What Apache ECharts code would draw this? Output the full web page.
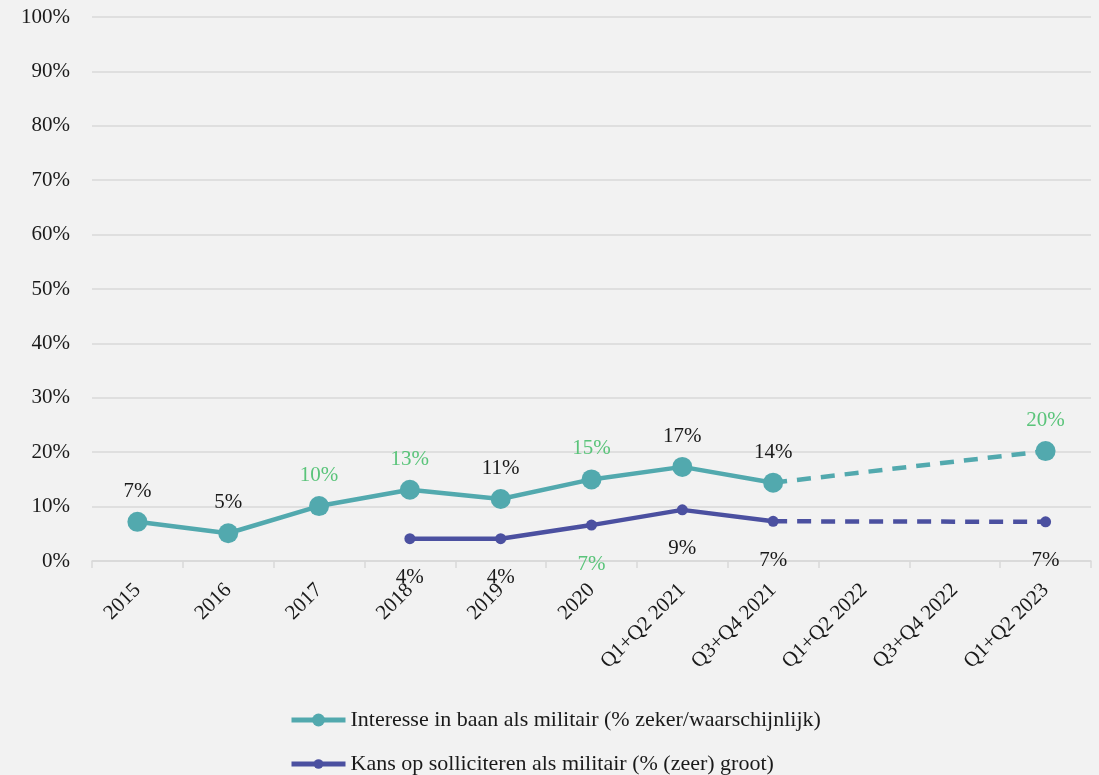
<!DOCTYPE html>
<html><head><meta charset="utf-8">
<script src="https://cdn.jsdelivr.net/npm/echarts@6/dist/echarts.min.js"></script>
<style>html,body{margin:0;padding:0;background:#f2f2f2;}#c{width:1099px;height:775px;}</style>
</head><body><div id="c"></div>
<script>
const categories = ['2015','2016','2017','2018','2019','2020','Q1+Q2 2021','Q3+Q4 2021','Q1+Q2 2022','Q3+Q4 2022','Q1+Q2 2023'];
const yTicks = [0,10,20,30,40,50,60,70,80,90,100];
const interesse = [7.2, 5.1, 10.1, 13.1, 11.4, 15.0, 17.3, 14.4, null, null, 20.2];
const kans = [null, null, null, 4.1, 4.1, 6.6, 9.4, 7.3, null, null, 7.2];
const interesseLabelGreen = [false,false,true,true,false,true,false,false,false,false,true];
const kansLabelGreen = [false,false,false,false,false,true,false,false,false,false,false];
const solidUntil = 7; // index of last solid point

const GREEN = '#5ac47a', TEAL = '#52a9ae', PURPLE = '#4b50a0';
const FONT = '"Liberation Serif", "DejaVu Serif", serif';
const FS = 21;

function solidPart(arr){ return arr.map((v,i)=> i<=solidUntil ? v : null); }
function dashPart(arr){ return arr.map((v,i)=> i>=solidUntil ? v : null); }
function labeled(arr, greens){
  return arr.map((v,i)=> v==null ? null : ({value:v, label:{color: greens[i]?GREEN:'#1a1a1a'}}));
}
function dashData(arr, greens){
  return arr.map((v,i)=>{
    if (v==null) return null;
    if (i===solidUntil) return {value:v, symbol:'none', label:{show:false}};
    return {value:v, label:{color: greens[i]?GREEN:'#1a1a1a'}};
  });
}
const nameA = 'Interesse in baan als militair (% zeker/waarschijnlijk)';
const nameB = 'Kans op solliciteren als militair (% (zeer) groot)';
const labA = {show:true, position:'top', distance:10, fontFamily:FONT, fontSize:FS, formatter:p=>Math.round(p.value)+'%'};
const labB = {show:true, position:'bottom', distance:23, fontFamily:FONT, fontSize:FS, formatter:p=>Math.round(p.value)+'%'};
const legendText = {fontFamily:FONT, fontSize:22, color:'#1a1a1a'};

const chart = echarts.init(document.getElementById('c'));
chart.setOption({
  backgroundColor:'#f2f2f2',
  animation:false,
  grid:{left:92, right:8, top:17, bottom:214, containLabel:false},
  xAxis:{type:'category', data:categories, boundaryGap:true,
    axisLine:{lineStyle:{color:'#d9d9d9', width:1.5}},
    axisTick:{show:true, length:7, lineStyle:{color:'#d9d9d9', width:1.5}},
    axisLabel:{rotate:45, fontFamily:FONT, fontSize:FS, color:'#1a1a1a', margin:26, interval:0}},
  yAxis:{type:'value', min:0, max:100, interval:10,
    axisLine:{show:false}, axisTick:{show:false},
    splitLine:{lineStyle:{color:'#d9d9d9', width:1.5}},
    axisLabel:{fontFamily:FONT, fontSize:FS, color:'#1a1a1a', margin:22, formatter:v=>v+'%'}},
  legend:[
    {left:284, top:704, itemWidth:54, itemHeight:16, itemGap:6, data:[nameA], lineStyle:{width:5}, textStyle:legendText},
    {left:284, top:748, itemWidth:54, itemHeight:12, itemGap:6, data:[nameB], lineStyle:{width:5}, textStyle:legendText}
  ],
  series:[
    {name:nameA, type:'line', data:labeled(solidPart(interesse), interesseLabelGreen), symbol:'circle', symbolSize:20,
      lineStyle:{color:TEAL, width:4.5}, itemStyle:{color:TEAL}, label:labA, z:3},
    {name:nameA, type:'line', data:dashData(dashPart(interesse), interesseLabelGreen), connectNulls:true, symbol:'circle', symbolSize:20,
      lineStyle:{color:TEAL, width:4.5, type:[14,10]}, itemStyle:{color:TEAL}, label:labA, z:3},
    {name:nameB, type:'line', data:labeled(solidPart(kans), kansLabelGreen), symbol:'circle', symbolSize:11,
      lineStyle:{color:PURPLE, width:4.5}, itemStyle:{color:PURPLE}, label:labB, z:3},
    {name:nameB, type:'line', data:dashData(dashPart(kans), kansLabelGreen), connectNulls:true, symbol:'circle', symbolSize:11,
      lineStyle:{color:PURPLE, width:4.5, type:[14,10]}, itemStyle:{color:PURPLE}, label:labB, z:3}
  ]
});
</script></body></html>
